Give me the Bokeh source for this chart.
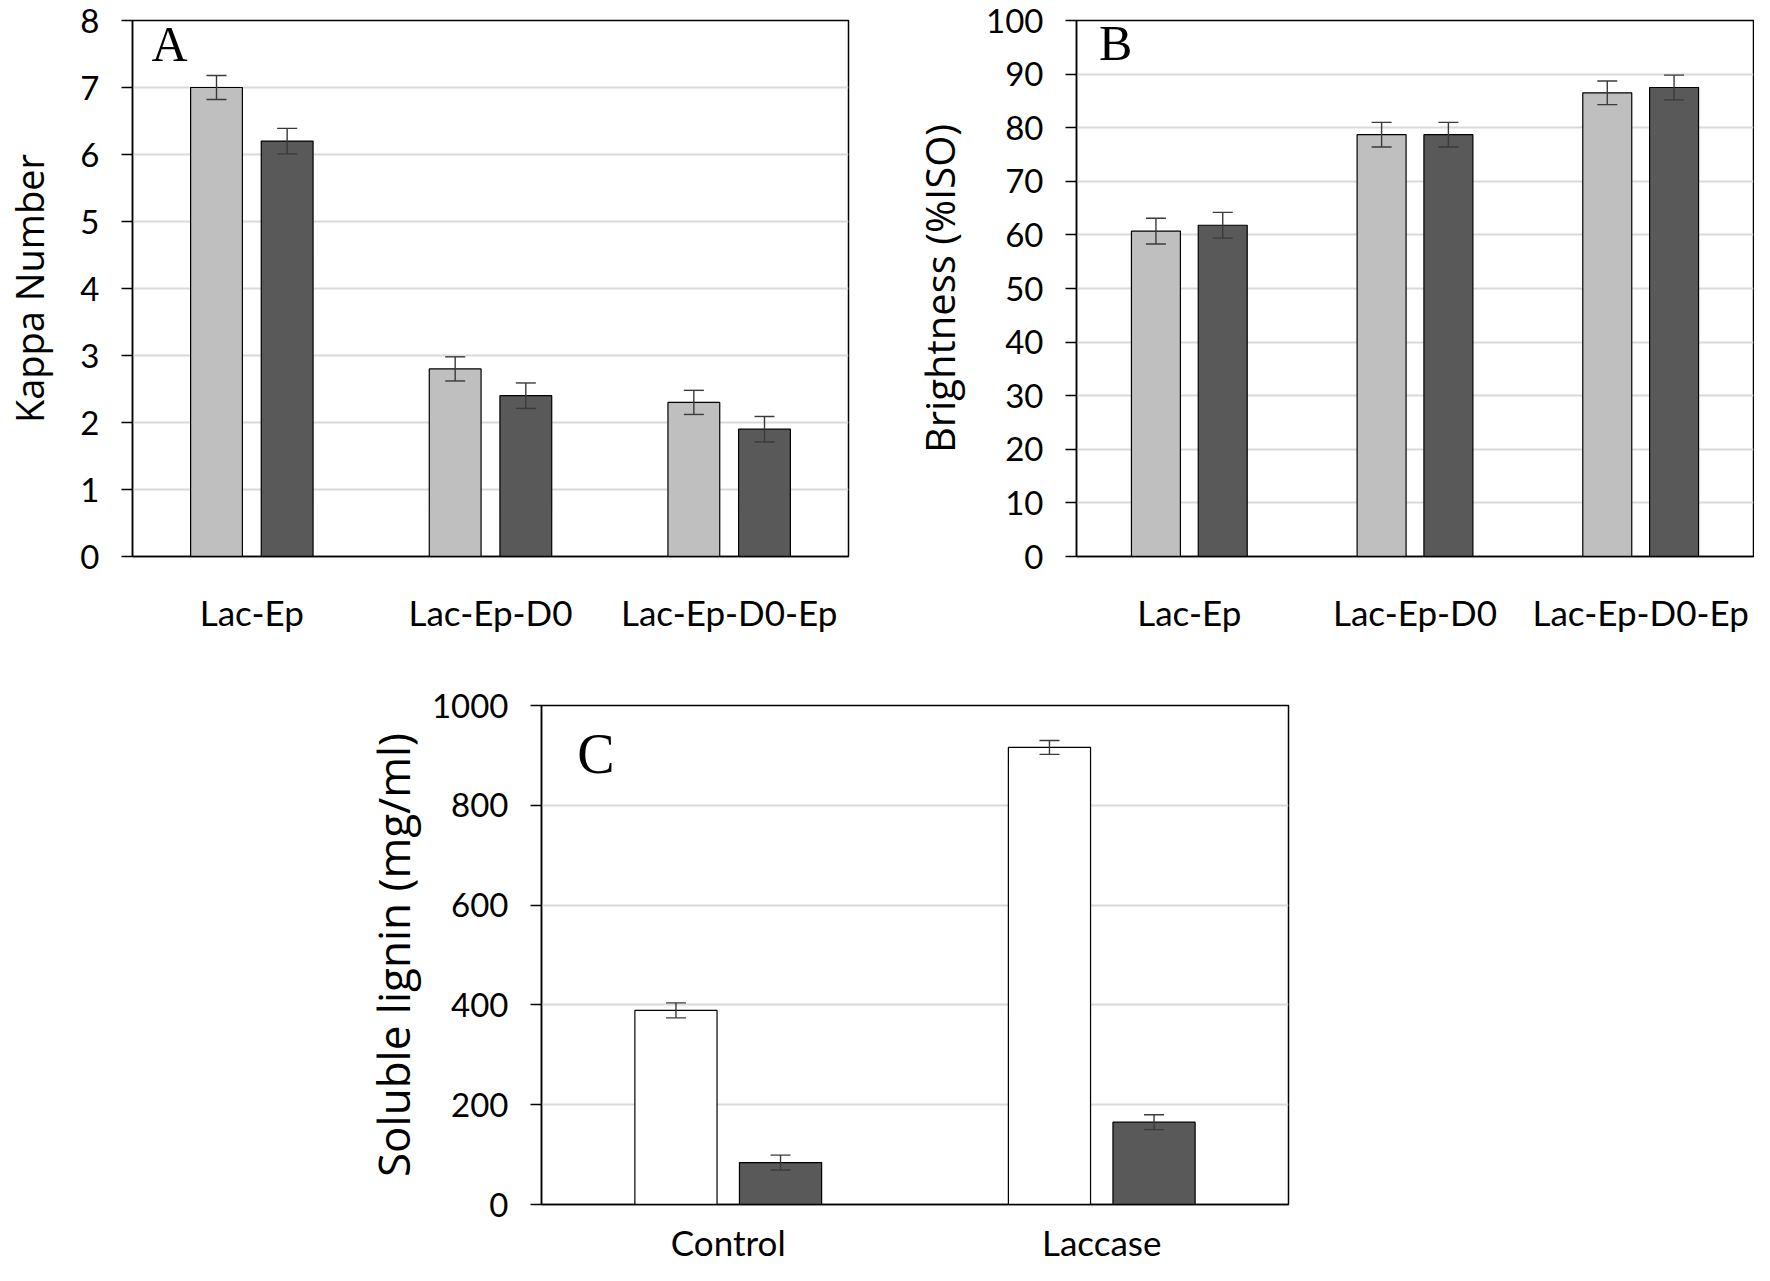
from bokeh.plotting import figure
from bokeh.models import FactorRange, ColumnDataSource, Whisker, TeeHead, Label, FixedTicker, Range1d
from bokeh.transform import dodge
from bokeh.layouts import column, row
from bokeh.embed import file_html
from bokeh.resources import INLINE

# ---------------- data ----------------
cats_ab = ["Lac-Ep", "Lac-Ep-D0", "Lac-Ep-D0-Ep"]

kappa_light = [7.0, 2.8, 2.3]
kappa_light_err = [0.18, 0.18, 0.18]
kappa_dark = [6.2, 2.4, 1.9]
kappa_dark_err = [0.19, 0.19, 0.19]

bright_light = [60.7, 78.7, 86.5]
bright_light_err = [2.4, 2.3, 2.2]
bright_dark = [61.8, 78.7, 87.5]
bright_dark_err = [2.4, 2.3, 2.3]

cats_c = ["Control", "Laccase"]
lignin_white = [389, 916]
lignin_white_err = [15, 14]
lignin_dark = [84, 165]
lignin_dark_err = [15, 15]

TICK_FONT = "Lato"
LABEL_FONT = "Open Sans"
LETTER_FONT = "Liberation Serif"
ERR_COLOR = "#3a3a3a"


def panel(cats, v1, e1, v2, e2, c1, c2, ymax, ystep, ylabel, label_size,
          letter, letter_size, lx, ly, width, height, bl, br, bt, bb,
          label_standoff, cat_standoff, bar_w, bar_off):
    p = figure(x_range=FactorRange(*cats, range_padding=0),
               y_range=Range1d(0, ymax),
               width=width, height=height, output_backend="svg",
               toolbar_location=None,
               min_border_left=bl, min_border_right=br,
               min_border_top=bt, min_border_bottom=bb)
    src = ColumnDataSource(dict(cat=cats, v1=v1, v2=v2,
                                lo1=[a - b for a, b in zip(v1, e1)],
                                hi1=[a + b for a, b in zip(v1, e1)],
                                lo2=[a - b for a, b in zip(v2, e2)],
                                hi2=[a + b for a, b in zip(v2, e2)]))
    p.vbar(x=dodge("cat", -bar_off, range=p.x_range), top="v1", width=bar_w, source=src,
           fill_color=c1, line_color="black", line_width=1.2)
    p.vbar(x=dodge("cat", bar_off, range=p.x_range), top="v2", width=bar_w, source=src,
           fill_color=c2, line_color="black", line_width=1.2)
    for sx, lo, hi in ((-bar_off, "lo1", "hi1"), (bar_off, "lo2", "hi2")):
        wk = Whisker(base=dodge("cat", sx, range=p.x_range), lower=lo, upper=hi,
                     source=src, line_color=ERR_COLOR, line_width=1.4, level="overlay",
                     upper_head=TeeHead(size=20, line_color=ERR_COLOR, line_width=1.4),
                     lower_head=TeeHead(size=20, line_color=ERR_COLOR, line_width=1.4))
        p.add_layout(wk)

    p.yaxis.ticker = FixedTicker(ticks=list(range(0, int(ymax) + 1, ystep)))
    p.yaxis.major_tick_out = 11
    p.yaxis.major_tick_in = 0
    p.yaxis.minor_tick_line_color = None
    p.yaxis.axis_line_color = "black"
    p.yaxis.axis_line_width = 1.5
    p.yaxis.major_tick_line_color = "black"
    p.yaxis.major_tick_line_width = 1.5
    p.yaxis.major_label_text_font = TICK_FONT
    p.yaxis.major_label_text_font_size = "33px"
    p.yaxis.major_label_text_color = "black"
    p.yaxis.major_label_standoff = 22
    p.yaxis.axis_label = ylabel
    p.yaxis.axis_label_text_font = LABEL_FONT
    p.yaxis.axis_label_text_font_size = label_size
    p.yaxis.axis_label_text_font_style = "normal"
    p.yaxis.axis_label_text_color = "black"
    p.yaxis.axis_label_standoff = label_standoff

    p.xaxis.major_tick_line_color = None
    p.xaxis.minor_tick_line_color = None
    p.xaxis.axis_line_color = "black"
    p.xaxis.axis_line_width = 1.5
    p.xaxis.major_label_text_font = TICK_FONT
    p.xaxis.major_label_text_font_size = "35px"
    p.xaxis.major_label_text_color = "black"
    p.xaxis.major_label_standoff = cat_standoff

    p.xgrid.grid_line_color = None
    p.ygrid.grid_line_color = "#D9D9D9"
    p.ygrid.grid_line_width = 2
    p.outline_line_color = "black"
    p.outline_line_width = 1.5
    p.outline_line_alpha = 1.0

    p.add_layout(Label(x=lx, y=ly, text=letter, text_font=LETTER_FONT,
                       text_font_size=letter_size, text_align="left",
                       text_baseline="alphabetic", text_color="black"))
    return p


pA = panel(cats_ab, kappa_light, kappa_light_err, kappa_dark, kappa_dark_err,
           "#BFBFBF", "#595959", 8, 1, "Kappa Number", "38px",
           "A", "50px", 0.08, 7.65,
           909, 642, 132, 61, 20, 86, 22, 28, 0.217, 0.148)
pB = panel(cats_ab, bright_light, bright_light_err, bright_dark, bright_dark_err,
           "#BFBFBF", "#595959", 100, 10, "Brightness (%ISO)", "40px",
           "B", "50px", 0.1, 95.8,
           845, 642, 162, 1, 20, 86, 16, 28, 0.217, 0.148)
pC = panel(cats_c, lignin_white, lignin_white_err, lignin_dark, lignin_dark_err,
           "#FFFFFF", "#595959", 1000, 200, "Soluble lignin (mg/ml)", "44px",
           "C", "56px", 0.096, 903,
           1320, 623, 541, 32, 63, 52, 6, 10, 0.22, 0.14)

layout = column(row(pA, pB), pC)
open("out.html", "w").write(file_html(layout, INLINE))
